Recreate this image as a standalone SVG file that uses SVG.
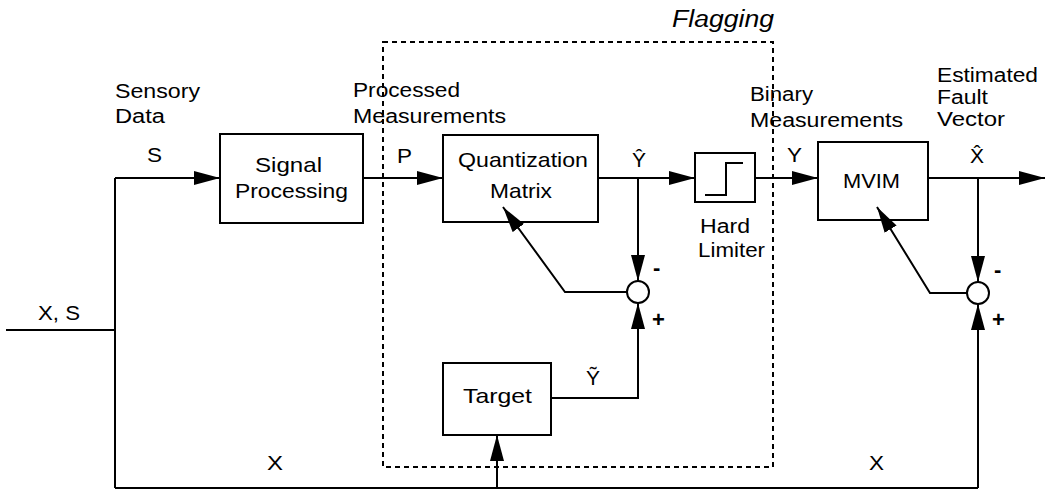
<svg xmlns="http://www.w3.org/2000/svg" width="1047" height="492" viewBox="0 0 1047 492">
  <style>
    .box { fill: none; stroke: #000; stroke-width: 2; }
    .wire { fill: none; stroke: #000; stroke-width: 2; }
    .arr { marker-end: url(#head); }
    .sum { fill: #fff; stroke: #000; stroke-width: 2; }
    .region { fill: none; stroke: #000; stroke-width: 2; stroke-dasharray: 5 4; }
    text { font-family: "Liberation Sans", Arial, sans-serif; fill: #000; }
    .lbl { font-size: 19.5px; }
    .in { font-size: 21px; }
    .sym { font-size: 21px; }
    .sign { font-size: 22px; font-weight: bold; }
    .title { font-size: 23px; font-style: italic; }
  </style>
  <defs>
    <marker id="head" markerUnits="userSpaceOnUse" markerWidth="28" markerHeight="14" refX="26" refY="7" orient="auto">
      <path d="M0,0 L26,7 L0,14 Z" fill="#000"/>
    </marker>
  </defs>

  <!-- flagging region -->
  <g id="flagging">
    <rect class="region" x="383" y="42" width="390" height="425"/>
    <text class="title" x="672" y="27" textLength="102" lengthAdjust="spacingAndGlyphs">Flagging</text>
  </g>

  <!-- connectors -->
  <g id="connectors">
    <!-- input X, S and split -->
    <polyline class="wire" points="6,330 115,330"/>
    <polyline class="wire" points="115,488 115,178"/>
    <polyline class="wire arr" points="115,178 220,178"/>
    <polyline class="wire arr" points="363,178 443,178"/>
    <polyline class="wire arr" points="598,178 695,178"/>
    <polyline class="wire arr" points="755,178 818,178"/>
    <polyline class="wire arr" points="928,178 1045,178"/>
    <!-- first comparator -->
    <polyline class="wire arr" points="638,178 638,281"/>
    <polyline class="wire arr" points="627,292 565,292 503,207"/>
    <polyline class="wire arr" points="551,398 638,398 638,303"/>
    <!-- X bus -->
    <polyline class="wire" points="115,488 978,488"/>
    <polyline class="wire arr" points="497,488 497,435"/>
    <polyline class="wire arr" points="978,488 978,304"/>
    <!-- second comparator -->
    <polyline class="wire arr" points="978,178 978,282"/>
    <polyline class="wire arr" points="967,293 930,293 877,207"/>
  </g>

  <!-- annotations on signals -->
  <g id="signal-labels">
    <text class="lbl" x="38" y="320" textLength="42" lengthAdjust="spacingAndGlyphs">X, S</text>
    <text class="lbl" x="115" y="98" textLength="85" lengthAdjust="spacingAndGlyphs">Sensory</text>
    <text class="lbl" x="115" y="123" textLength="50" lengthAdjust="spacingAndGlyphs">Data</text>
    <text class="sym" x="147" y="162" textLength="15" lengthAdjust="spacingAndGlyphs">S</text>
    <text class="lbl" x="353" y="97" textLength="107" lengthAdjust="spacingAndGlyphs">Processed</text>
    <text class="lbl" x="353" y="123" textLength="153" lengthAdjust="spacingAndGlyphs">Measurements</text>
    <text class="sym" x="397" y="163" textLength="15" lengthAdjust="spacingAndGlyphs">P</text>
    <text class="sym" x="632" y="167">Ŷ</text>
    <text class="sym" x="586" y="385">Ỹ</text>
    <text class="lbl" x="750" y="101" textLength="63" lengthAdjust="spacingAndGlyphs">Binary</text>
    <text class="lbl" x="750" y="127" textLength="153" lengthAdjust="spacingAndGlyphs">Measurements</text>
    <text class="sym" x="787" y="162" textLength="15" lengthAdjust="spacingAndGlyphs">Y</text>
    <text class="lbl" x="937" y="82" textLength="101" lengthAdjust="spacingAndGlyphs">Estimated</text>
    <text class="lbl" x="937" y="104" textLength="51" lengthAdjust="spacingAndGlyphs">Fault</text>
    <text class="lbl" x="937" y="126" textLength="68" lengthAdjust="spacingAndGlyphs">Vector</text>
    <text class="sym" x="970" y="163">X̂</text>
    <text class="lbl" x="267" y="470" textLength="16" lengthAdjust="spacingAndGlyphs">X</text>
    <text class="lbl" x="869" y="470" textLength="15" lengthAdjust="spacingAndGlyphs">X</text>
  </g>

  <g id="signal-processing">
    <rect class="box" x="220" y="134" width="143" height="89"/>
    <text class="in" x="255" y="172" textLength="67" lengthAdjust="spacingAndGlyphs">Signal</text>
    <text class="in" x="235" y="198" textLength="113" lengthAdjust="spacingAndGlyphs">Processing</text>
  </g>

  <g id="quantization-matrix">
    <rect class="box" x="443" y="135" width="155" height="87"/>
    <text class="in" x="458" y="167" textLength="130" lengthAdjust="spacingAndGlyphs">Quantization</text>
    <text class="in" x="490" y="198" textLength="62" lengthAdjust="spacingAndGlyphs">Matrix</text>
  </g>

  <g id="hard-limiter">
    <rect class="box" x="695" y="153" width="60" height="49"/>
    <polyline class="wire" points="705,195 726,195 726,163 743,163"/>
    <text class="lbl" x="700" y="233" textLength="50" lengthAdjust="spacingAndGlyphs">Hard</text>
    <text class="lbl" x="698" y="257" textLength="67" lengthAdjust="spacingAndGlyphs">Limiter</text>
  </g>

  <g id="mvim">
    <rect class="box" x="818" y="142" width="110" height="78"/>
    <text class="in" x="843" y="188" textLength="57" lengthAdjust="spacingAndGlyphs">MVIM</text>
  </g>

  <g id="target">
    <rect class="box" x="443" y="363" width="108" height="72"/>
    <text class="in" x="463" y="403" textLength="69" lengthAdjust="spacingAndGlyphs">Target</text>
  </g>

  <g id="sum-flagging">
    <circle class="sum" cx="638" cy="292" r="11"/>
    <text class="sign" x="653" y="275">-</text>
    <text class="sign" x="652" y="327">+</text>
  </g>

  <g id="sum-estimate">
    <circle class="sum" cx="978" cy="293" r="11"/>
    <text class="sign" x="994" y="277">-</text>
    <text class="sign" x="992" y="327">+</text>
  </g>
</svg>
